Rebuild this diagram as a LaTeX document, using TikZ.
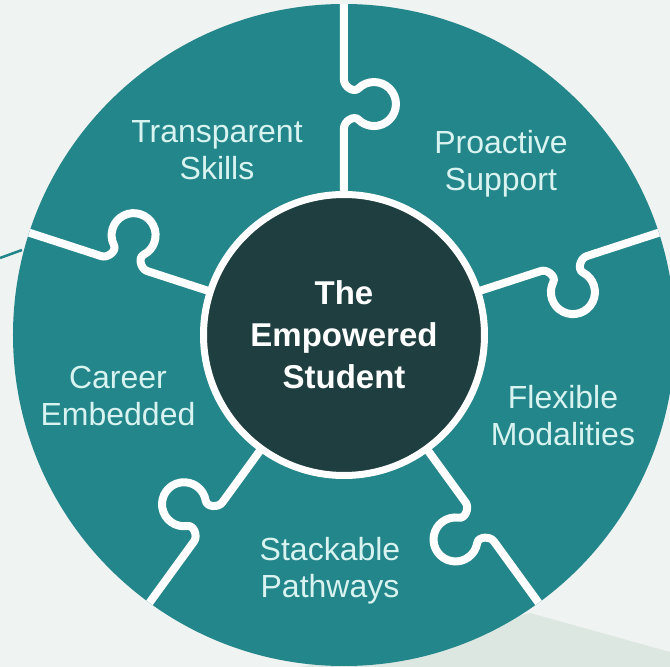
\documentclass[tikz,border=0pt]{standalone}
\usepackage{fontspec}
\setmainfont{Liberation Sans}

\definecolor{puzzleteal}{RGB}{35,134,138}
\definecolor{hubdark}{RGB}{30,62,64}
\definecolor{labeltext}{RGB}{216,243,240}
\definecolor{bgpale}{RGB}{239,243,241}
\definecolor{bgshade}{RGB}{221,231,226}

\tikzset{
  piece/.style={text=labeltext, font=\fontsize{32}{37}\selectfont, align=center},
  hub/.style={circle, fill=hubdark, draw=white, line width=7pt, minimum size=281pt,
    inner sep=0pt, text=white, font=\bfseries\fontsize{33}{42}\selectfont, align=center},
  seam/.style={draw=white, line width=8pt, line join=round},
}

\begin{document}
\begin{tikzpicture}[x=1pt,y=1pt]
  \fill[bgpale] (-344,-332) rectangle (326,335);
  \useasboundingbox (-344,-332) rectangle (326,335);
  \fill[bgshade] (186,-278) -- (326,-317) -- (326,-332) -- (-44,-332) -- cycle;
  \draw[puzzleteal, line width=2.5pt] (-344,77) -- (-322,85);

  % the wheel and its five seams
  \fill[puzzleteal] (0,0) circle (331);
  \foreach \a in {90,18,-54,-126,162}
    \draw[seam, rotate=\a] (140,0) -- (207,0) to[out=0,in=45] (215.4,-14.4)
      arc[start angle=135, end angle=405, radius=22] to[out=135,in=180] (255,0) -- (331,0);

  \node[hub] (student) at (0,0) {The\\Empowered\\Student};

  \node[piece] (skills) at (-127,185) {Transparent\\Skills};
  \node[piece] (support) at (157,171) {Proactive\\Support};
  \node[piece] (modalities) at (219,-81) {Flexible\\Modalities};
  \node[piece] (pathways) at (-14,-236) {Stackable\\Pathways};
  \node[piece] (career) at (-226,-61) {Career\\Embedded};
\end{tikzpicture}
\end{document}
